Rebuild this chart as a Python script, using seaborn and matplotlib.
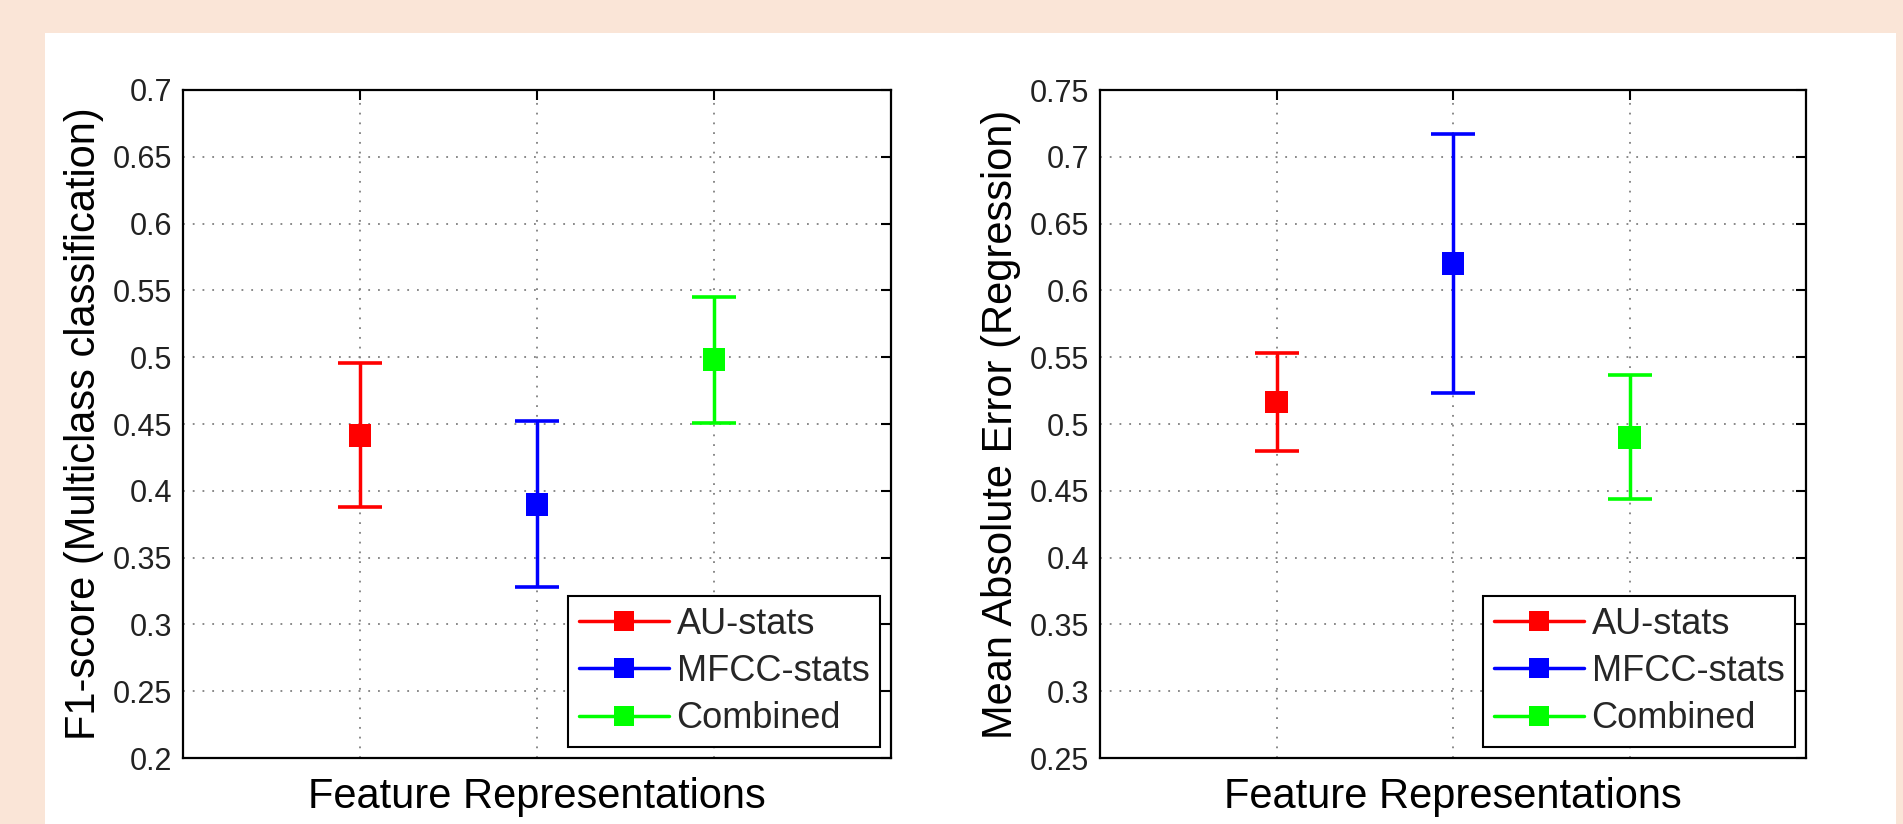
import numpy as np
import pandas as pd
import seaborn as sns
import matplotlib
matplotlib.use("Agg")
import matplotlib.pyplot as plt
from matplotlib.lines import Line2D
from matplotlib.patches import Rectangle
from matplotlib.ticker import FuncFormatter, MultipleLocator

# ---- data ----
methods = ["AU-stats", "MFCC-stats", "Combined"]
colors = ["#FF0000", "#0000FF", "#00FF00"]
positions = [1, 2, 3]
f1_mean = [0.4415, 0.390, 0.498]
f1_err = [0.054, 0.062, 0.047]
mae_mean = [0.5165, 0.620, 0.490]
mae_err = [0.037, 0.097, 0.0465]
f1_ylim = (0.2, 0.7)
mae_ylim = (0.25, 0.75)
xlabel = "Feature Representations"
f1_ylabel = "F1-score (Multiclass classification)"
mae_ylabel = "Mean Absolute Error (Regression)"

sns.set_theme(style="white")
plt.rcParams["font.family"] = ["Liberation Sans", "DejaVu Sans"]

W, H = 1903, 824
fig = plt.figure(figsize=(W / 100, H / 100), dpi=100, facecolor="#FAE5D7")
fig.patches.append(Rectangle((45 / W, 0.0), (1896 - 45) / W, 1 - 33 / H,
                             transform=fig.transFigure,
                             facecolor="white", edgecolor="none", zorder=-10))

ax1 = fig.add_axes([183 / W, 1 - 758 / H, (891 - 183) / W, (758 - 90) / H])
ax2 = fig.add_axes([1100 / W, 1 - 758 / H, (1806 - 1100) / W, (758 - 90) / H])


def draw(ax, means, errs, ylim, ylabel):
    df = pd.DataFrame({"method": methods, "pos": positions, "value": means, "err": errs})
    for _, r in df.iterrows():
        c = colors[methods.index(r["method"])]
        ax.errorbar(r["pos"], r["value"], yerr=r["err"], fmt="none", ecolor=c,
                    elinewidth=2.5, capsize=16, capthick=2.6, zorder=3)
    sns.scatterplot(data=df, x="pos", y="value", hue="method", palette=colors,
                    hue_order=methods, marker="s", s=270, linewidth=0,
                    legend=False, ax=ax, zorder=4)
    ax.set_xlim(0, 4)
    ax.set_ylim(*ylim)
    ax.set_xticks(positions)
    ax.yaxis.set_major_locator(MultipleLocator(0.05))
    ax.yaxis.set_major_formatter(FuncFormatter(lambda v, p: f"{v:g}" if abs(v) > 1e-9 else "0"))
    ax.tick_params(direction="in", length=7, width=1.5, top=True, right=True,
                   labelbottom=False, labelsize=22, colors="black", labelcolor="#222222",
                   pad=8)
    ax.grid(True, linestyle=(0, (1, 4.4)), color="#808080", linewidth=1.3)
    for s in ax.spines.values():
        s.set_color("black")
        s.set_linewidth(1.6)
        s.set_visible(True)
    ax.set_xlabel(xlabel, fontsize=30, color="black", labelpad=14)
    ax.set_ylabel(ylabel, fontsize=30, color="black", labelpad=6)
    handles = [Line2D([], [], color=c, marker="s", markersize=15, lw=2.5,
                      markeredgewidth=0) for c in colors]
    leg = ax.legend(handles, methods, loc="lower right", fontsize=26, frameon=True,
                    fancybox=False, edgecolor="black", framealpha=1,
                    handlelength=2.5, handletextpad=0.2, borderpad=0.3,
                    labelspacing=0.34, borderaxespad=0.3)
    leg.get_frame().set_linewidth(1.5)


draw(ax1, f1_mean, f1_err, f1_ylim, f1_ylabel)
draw(ax2, mae_mean, mae_err, mae_ylim, mae_ylabel)

fig.savefig("out.png", dpi=100, facecolor=fig.get_facecolor())
